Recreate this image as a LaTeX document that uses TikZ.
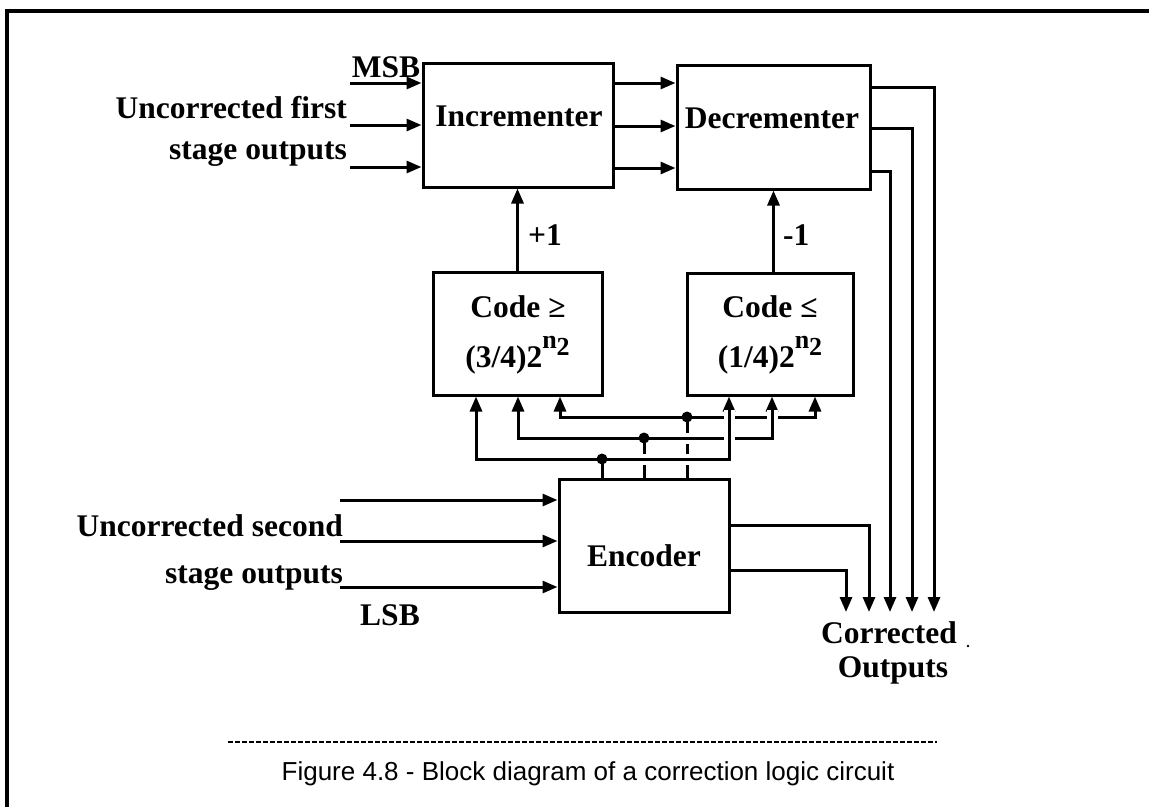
\documentclass[tikz,border=0pt]{standalone}
\usepackage{fontspec}
\setmainfont{Liberation Serif}
\newfontfamily\capfont{Liberation Sans}
\usetikzlibrary{arrows.meta,calc}
\newcommand\myexp{\raisebox{19pt}{\fontsize{26}{26}\selectfont n\raisebox{-7pt}{2}}}
\begin{document}
\begin{tikzpicture}[x=1pt,y=-1pt,
  box/.style={draw, line width=3pt, inner sep=0pt},
  wire/.style={line width=3pt},
  tip/.tip={Triangle[length=15pt,width=12pt]},
  arr/.style={wire, -tip},
  arrr/.style={wire, tip-tip},
  lbl/.style={font=\fontsize{31.5}{36}\selectfont\bfseries, inner sep=0pt},
  dot/.style={circle, fill, inner sep=0pt, minimum size=11pt},
  bridge/.style={wire, preaction={draw=white, line width=11pt}},
]
\useasboundingbox (0,0) rectangle (1149,807);
% frame
\draw[line width=3.2pt] (7,807) -- (7,11) -- (1149,11);

% boxes
\node[box, minimum width=190pt, minimum height=124pt] (inc) at (518,125) {};
\node[box, minimum width=193pt, minimum height=124pt] (dec) at (773.5,127) {};
\node[box, minimum width=169pt, minimum height=123pt] (cge) at (517.5,333.5) {};
\node[box, minimum width=166pt, minimum height=122pt] (cle) at (770,334) {};
\node[box, minimum width=170pt, minimum height=133pt] (enc) at (644,545.5) {};

% box texts
\node[lbl, anchor=base] (inct) at (519,126) {Incrementer};
\node[lbl, anchor=base] (dect) at (772,128) {Decrementer};
\node[lbl, anchor=base] (enct) at (644,566) {Encoder};
\node[lbl, anchor=base] (cget1) at (518,317) {Code ≥};
\node[lbl, anchor=base] (cget2) at (517.5,367) {(3/4)2\myexp};
\node[lbl, anchor=base] (clet1) at (770,317) {Code ≤};
\node[lbl, anchor=base] (clet2) at (770,367) {(1/4)2\myexp};

% inputs to incrementer
\coordinate (i1) at (350,83);
\coordinate (i2) at (350,125);
\coordinate (i3) at (350,167);
\foreach \c in {i1,i2,i3} \draw[arr] (\c) -- (\c -| inc.west);

% incrementer -> decrementer
\coordinate (p1) at (613,83);
\coordinate (p2) at (613,126);
\coordinate (p3) at (613,168);
\foreach \c in {p1,p2,p3} \draw[arr] (\c) -- (\c -| dec.west);

% outputs
\coordinate (o1) at (846,612);
\coordinate (o2) at (869,612);
\coordinate (o3) at (890,612);
\coordinate (o4) at (912,612);
\coordinate (o5) at (934,612);
\coordinate (d1) at (870,87);
\coordinate (d2) at (870,128);
\coordinate (d3) at (870,171);
\coordinate (e1) at (729,525);
\coordinate (e2) at (729,570);
\draw[arr] (d1) -| (o5);
\draw[arr] (d2) -| (o4);
\draw[arr] (d3) -| (o3);
\draw[arr] (e1) -| (o2);
\draw[arr] (e2) -| (o1);

% +1 / -1
\draw[arr] (cge.north) -- (cge.north |- inc.south);
\draw[arr] (dec.south |- cle.north) -- (dec.south);
\node[lbl, anchor=base west] (plus) at (528,245) {+1};
\node[lbl, anchor=base west] (minus) at (783,245) {-1};

% bus
\coordinate (b3) at (602,459);
\coordinate (b2) at (644,438);
\coordinate (b1) at (687,417);
\coordinate (l3a) at (476,459);
\coordinate (l3b) at (729,459);
\coordinate (l2a) at (518,438);
\coordinate (l2b) at (772,438);
\coordinate (l1a) at (560,417);
\coordinate (l1b) at (815,417);
\draw[arrr] (l3a |- cge.south) -- (l3a) -- (l3b) -- (l3b |- cle.south);
\draw[arrr] (l2a |- cge.south) -- (l2a) -- (l2b) -- (l2b |- cle.south);
\draw[arrr] (l1a |- cge.south) -- (l1a) -- (l1b) -- (l1b |- cle.south);
\draw[wire] (b3) -- (b3 |- enc.north);
\draw[wire] (b2) -- (b2 |- enc.north);
\draw[wire] (b1) -- (b1 |- enc.north);
% crossings without connection
\draw[bridge] (729,410) -- (729,424);
\draw[bridge] (729,431) -- (729,445);
\draw[bridge] (772,410) -- (772,424);
\draw[bridge] (680,438) -- (694,438);
\draw[bridge] (680,459) -- (694,459);
\draw[bridge] (637,459) -- (651,459);
\node[dot] (k3) at (b3) {};
\node[dot] (k2) at (b2) {};
\node[dot] (k1) at (b1) {};

% encoder inputs
\coordinate (j1) at (340,500);
\coordinate (j2) at (340,541);
\coordinate (j3) at (340,587);
\foreach \c in {j1,j2,j3} \draw[arr] (\c) -- (\c -| enc.west);

% labels
\node[lbl, anchor=base] (msb) at (386,77) {MSB};
\node[lbl, anchor=base east] (u1) at (347,118) {Uncorrected first};
\node[lbl, anchor=base east] (u2) at (347,159) {stage outputs};
\node[lbl, anchor=base east] (u3) at (343,536) {Uncorrected second};
\node[lbl, anchor=base east] (u4) at (343,583) {stage outputs};
\node[lbl, anchor=base] (lsb) at (390,625) {LSB};
\node[lbl, anchor=base] (co1) at (889,643) {Corrected};
\node[lbl, anchor=base] (co2) at (893,677) {Outputs};
\fill (968,646) circle (1.3);

% caption
\draw[line width=2.6pt, dash pattern=on 5pt off 2pt] (228,742) -- (937,742);
\node[font=\capfont\fontsize{26}{30}\selectfont, inner sep=0pt, anchor=base] (cap) at (588,780) {Figure 4.8 - Block diagram of a correction logic circuit};
\end{tikzpicture}
\end{document}
